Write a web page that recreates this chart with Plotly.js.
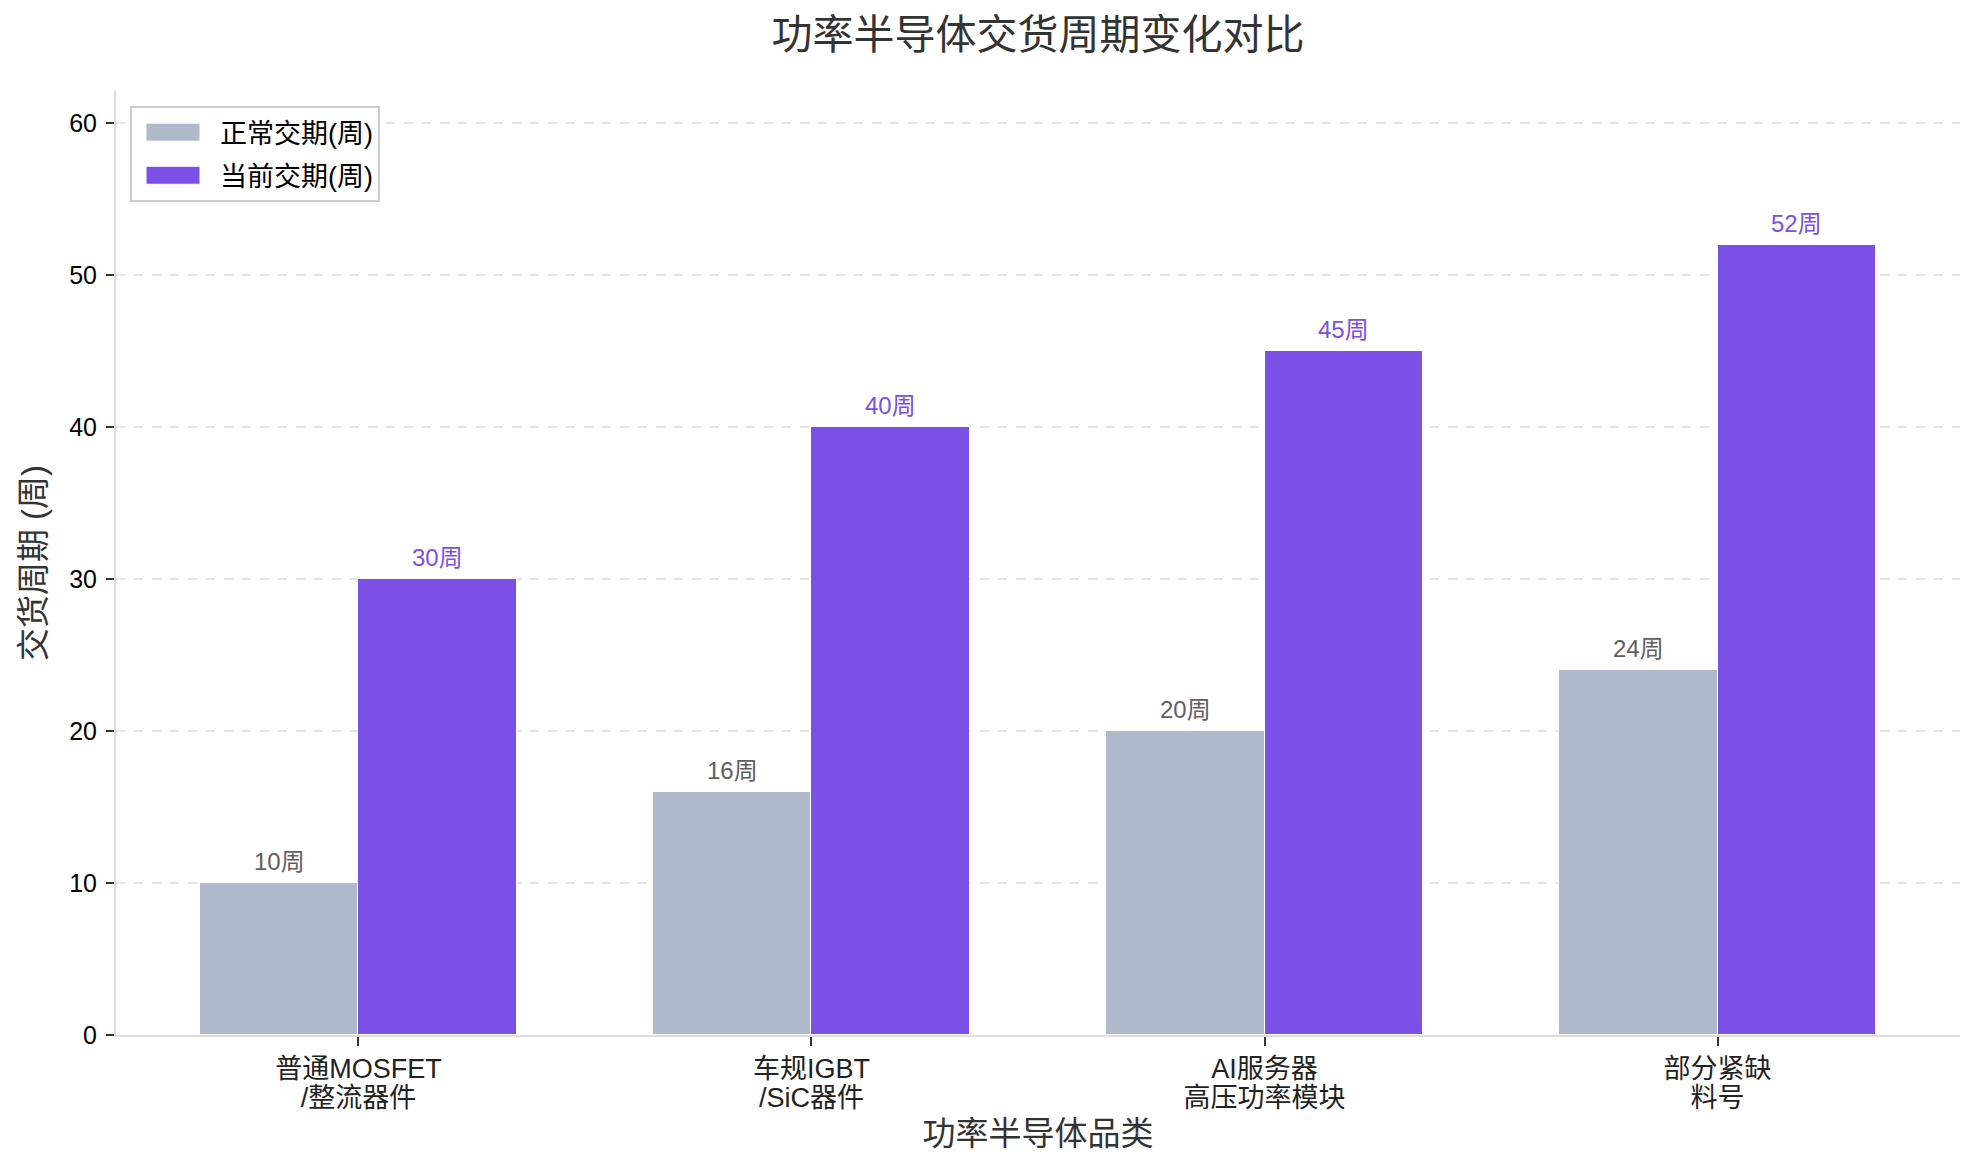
<!DOCTYPE html>
<html>
<head>
<meta charset="utf-8">
<script src="https://cdn.plot.ly/plotly-3.0.1.min.js"></script>
<style>
  html, body { margin: 0; padding: 0; background: #fff; }
  #chart { width: 1979px; height: 1173px; }
</style>
</head>
<body>
<div id="chart"></div>
<script>
// categories and values
const categories = ['普通MOSFET<br>/整流器件', '车规IGBT<br>/SiC器件', 'AI服务器<br>高压功率模块', '部分紧缺<br>料号'];
const normalWeeks = [10, 16, 20, 24];
const currentWeeks = [30, 40, 45, 52];
const seriesNames = ['正常交期(周)', '当前交期(周)'];

const FONT = 'Arial, "Liberation Sans", "Noto Sans CJK SC", sans-serif';
const GRAY = '#B0B8CB';
const PURPLE = '#7B50E6';
const w = 0.35;

const idx = categories.map((c, i) => i);

function makeBars(values, name, color, shift) {
    return {
        x: idx.map(i => i + shift),
        y: values,
        name: name,
        legendgroup: name,
        type: 'bar',
        width: w,
        marker: {color: color, line: {color: '#ffffff', width: 1}},
        hoverinfo: 'skip'
    };
}

let trace = makeBars(normalWeeks, seriesNames[0], GRAY, -w / 2);
let trace2 = makeBars(currentWeeks, seriesNames[1], PURPLE, w / 2);

// value labels above each bar
let annotations = [];
for (let i = 0; i < idx.length; i++) {
    annotations.push({
        x: i - w / 2, y: normalWeeks[i], xref: 'x', yref: 'y',
        text: normalWeeks[i] + '周', showarrow: false,
        yanchor: 'bottom', yshift: 6,
        font: {family: FONT, size: 24, color: '#606060'}
    });
    annotations.push({
        x: i + w / 2, y: currentWeeks[i], xref: 'x', yref: 'y',
        text: currentWeeks[i] + '周', showarrow: false,
        yanchor: 'bottom', yshift: 6,
        font: {family: FONT, size: 24, color: PURPLE}
    });
}

const layout = {
    width: 1979,
    height: 1173,
    margin: {l: 116, r: 19, t: 91, b: 138},
    paper_bgcolor: '#ffffff',
    plot_bgcolor: '#ffffff',
    font: {family: FONT, size: 25, color: '#000'},
    title: {
        text: '功率半导体交货周期变化对比',
        x: 0.5, xref: 'paper', xanchor: 'center',
        y: 1 - 35 / 1173, yref: 'container', yanchor: 'middle',
        font: {family: FONT, size: 41, color: '#333333'}
    },
    showlegend: true,
    legend: {
        x: 0.0076, y: 0.984, xanchor: 'left', yanchor: 'top',
        bgcolor: '#ffffff', bordercolor: '#cccccc', borderwidth: 2,
        font: {family: FONT, size: 27, color: '#000'},
        itemwidth: 78,
        tracegroupgap: 5
    },
    xaxis: {
        range: [-0.535, 3.535],
        tickmode: 'array',
        tickvals: idx,
        ticktext: categories,
        showgrid: false,
        zeroline: false,
        showline: true, linecolor: '#dddddd', linewidth: 2,
        ticks: 'outside', ticklen: 9, tickwidth: 1.5, tickcolor: '#333',
        tickfont: {family: FONT, size: 27, color: '#222'},
        title: {text: '功率半导体品类', font: {family: FONT, size: 33, color: '#333'}, standoff: 3}
    },
    yaxis: {
        range: [0, 62.1],
        dtick: 10,
        showgrid: true, gridcolor: '#e3e3e3', griddash: 'dash', gridwidth: 1.5,
        zeroline: false,
        showline: true, linecolor: '#dddddd', linewidth: 2,
        ticks: 'outside', ticklen: 8, tickwidth: 1.5, tickcolor: '#333',
        ticklabelstandoff: 4,
        tickfont: {family: FONT, size: 25, color: '#000'},
        title: {text: '交货周期 (周)', font: {family: FONT, size: 33, color: '#333'}, standoff: 14}
    },
    annotations: annotations,
    bargap: 0
};

var plt = [trace, trace2];

Plotly.newPlot('chart', plt, layout, {displayModeBar: false}).then(function (gd) {
    // wider legend swatches, like the original
    gd.querySelectorAll('.legendpoints path').forEach(function (p) {
        p.setAttribute('d', 'M-30,9H24V-9H-30Z');
    });
    // tighter line spacing in the two-line category labels
    gd.querySelectorAll('.xtick text tspan.line').forEach(function (t) {
        if (t.getAttribute('dy') && parseFloat(t.getAttribute('dy')) > 0) {
            t.setAttribute('dy', '1.05em');
        }
    });
});
</script>
</body>
</html>
